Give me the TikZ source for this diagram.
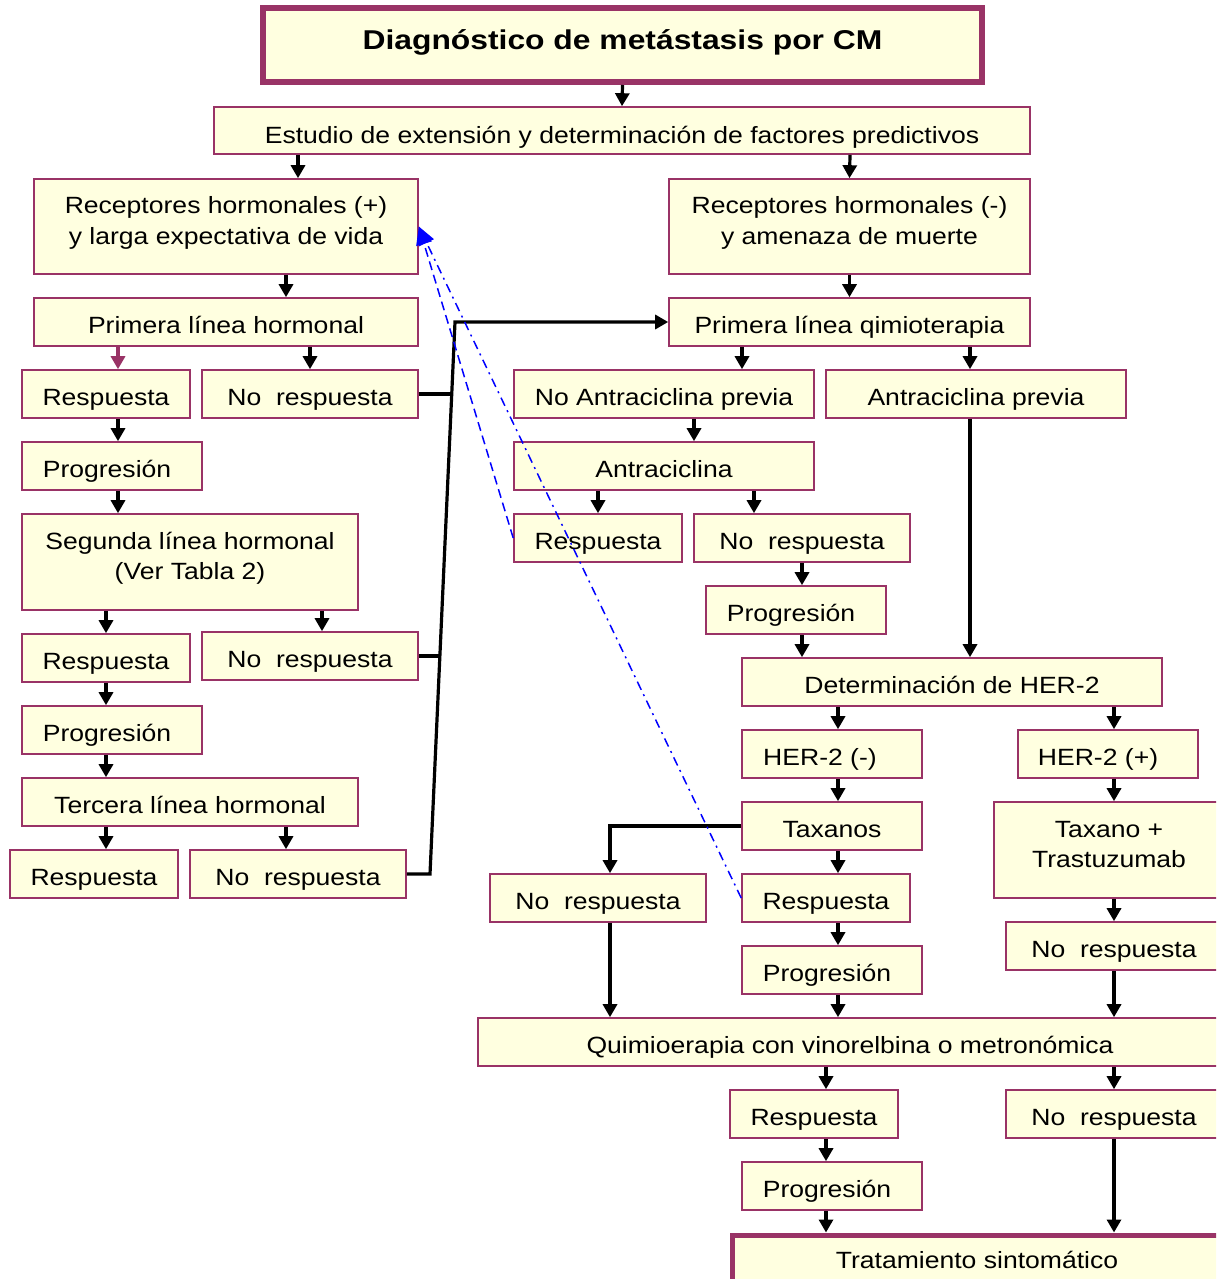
\documentclass[tikz,border=0pt]{standalone}
\usepackage{fontspec}
\setmainfont{Liberation Sans}[FakeStretch=1.13]
\newfontfamily\titlefont{Liberation Sans}[FakeStretch=1.17]
\usetikzlibrary{arrows.meta}
\definecolor{boxfill}{HTML}{FFFFE0}
\definecolor{boxline}{HTML}{993366}
\tikzset{
  bx/.style={draw=boxline, fill=boxfill, line width=1.6pt, inner sep=0pt,
    minimum height=48pt, font=\fontsize{23.5}{30.5}\selectfont,
    text height=22pt, text depth=0pt},
  bxtwo/.style={bx, minimum height=96pt, text height=0pt, text depth=26pt},
  arr/.style={line width=3.2pt, -{Triangle[width=14pt,length=13pt]}},
  conn/.style={line width=3.2pt, line join=miter},
  refline/.style={blue, line width=1.5pt},
}
\begin{document}
\begin{tikzpicture}[x=1pt,y=-1pt]
\useasboundingbox (0,0) rectangle (1216,1279);
\fill[white] (0,0) rectangle (1216,1279);
\clip (0,0) rectangle (1216,1279);

% nodes
\node[bx, line width=6pt, minimum width=719pt, minimum height=74pt,
  font=\titlefont\fontsize{27.2}{32}\selectfont\bfseries, text height=10pt] (title) at (622.5,45) {Diagnóstico de metástasis por CM};
\node[bx, minimum width=816pt, minimum height=47pt, text height=25pt] (est) at (622,130.5) {Estudio de extensión y determinación de factores predictivos};
\node[bxtwo, minimum width=384pt, minimum height=95pt] (rhp) at (226,226.5) {\begin{tabular}[t]{@{}c@{}}Receptores hormonales (+)\\y larga expectativa de vida\end{tabular}};
\node[bxtwo, minimum width=361pt, minimum height=95pt] (rhn) at (849.5,226.5) {\begin{tabular}[t]{@{}c@{}}Receptores hormonales (-)\\y amenaza de muerte\end{tabular}};
\node[bx, minimum width=384pt] (plh) at (226,322) {Primera línea hormonal};
\node[bx, minimum width=168pt] (r1) at (106,394) {Respuesta};
\node[bx, minimum width=216pt] (nr1) at (310,394) {No\ \ respuesta};
\node[bx, minimum width=180pt] (p1) at (112,466) {Progresión\kern10pt};
\node[bxtwo, minimum width=336pt] (slh) at (190,562) {\begin{tabular}[t]{@{}c@{}}Segunda línea hormonal\\(Ver Tabla 2)\end{tabular}};
\node[bx, minimum width=168pt] (r2) at (106,658) {Respuesta};
\node[bx, minimum width=216pt] (nr2) at (310,656) {No\ \ respuesta};
\node[bx, minimum width=180pt] (p2) at (112,730) {Progresión\kern10pt};
\node[bx, minimum width=336pt] (tlh) at (190,802) {Tercera línea hormonal};
\node[bx, minimum width=168pt] (r3) at (94,874) {Respuesta};
\node[bx, minimum width=216pt] (nr3) at (298,874) {No\ \ respuesta};

\node[bx, minimum width=361pt] (plq) at (849.5,322) {Primera línea qimioterapia};
\node[bx, minimum width=300pt] (noa) at (664,394) {No Antraciclina previa};
\node[bx, minimum width=300pt] (ap) at (976,394) {Antraciclina previa};
\node[bx, minimum width=300pt] (an) at (664,466) {Antraciclina};
\node[bx, minimum width=168pt] (ra) at (598,538) {Respuesta};
\node[bx, minimum width=216pt] (nra) at (802,538) {No\ \ respuesta};
\node[bx, minimum width=180pt] (pa) at (796,610) {Progresión\kern10pt};
\node[bx, minimum width=420pt] (her) at (952,682) {Determinación de HER-2};
\node[bx, minimum width=180pt] (hn) at (832,754) {HER-2 (-)\kern24pt};
\node[bx, minimum width=180pt] (hp) at (1108,754) {HER-2 (+)\kern20pt};
\node[bx, minimum width=180pt] (tax) at (832,826) {Taxanos};
\node[bxtwo, minimum width=230pt] (tt) at (1109,850) {\begin{tabular}[t]{@{}c@{}}Taxano +\\Trastuzumab\end{tabular}};
\node[bx, minimum width=216pt] (nrt) at (598,898) {No\ \ respuesta};
\node[bx, minimum width=168pt] (rt) at (826,898) {Respuesta};
\node[bx, minimum width=180pt] (pt) at (832,970) {Progresión\kern10pt};
\node[bx, minimum width=216pt] (nrtt) at (1114,946) {No\ \ respuesta};
\node[bx, minimum width=744pt] (qv) at (850,1042) {Quimioerapia con vinorelbina o metronómica};
\node[bx, minimum width=168pt] (rf) at (814,1114) {Respuesta};
\node[bx, minimum width=216pt] (nrf) at (1114,1114) {No\ \ respuesta};
\node[bx, minimum width=180pt] (pf) at (832,1186) {Progresión\kern10pt};
\node[bx, line width=5pt, minimum width=490pt, minimum height=65pt, text height=1pt] (ts) at (977,1267.5) {Tratamiento sintomático};

% vertical arrows
\draw[arr] (title.south) -- (est.north);
\draw[arr] ([xshift=-324pt]est.south) -- ([xshift=72pt]rhp.north);
\draw[arr] ([xshift=228pt]est.south) -- (rhn.north);
\draw[arr] ([xshift=60pt]rhp.south) -- ([xshift=60pt]plh.north);
\draw[arr] (rhn.south) -- (plq.north);
\draw[arr, boxline] ([xshift=-108pt]plh.south) -- ([xshift=12pt]r1.north);
\draw[arr] ([xshift=84pt]plh.south) -- (nr1.north);
\draw[arr] ([xshift=12pt]r1.south) -- ([xshift=6pt]p1.north);
\draw[arr] ([xshift=6pt]p1.south) -- ([xshift=-72pt]slh.north);
\draw[arr] ([xshift=-84pt]slh.south) -- (r2.north);
\draw[arr] ([xshift=132pt]slh.south) -- ([xshift=12pt]nr2.north);
\draw[arr] (r2.south) -- ([xshift=-6pt]p2.north);
\draw[arr] ([xshift=-6pt]p2.south) -- ([xshift=-84pt]tlh.north);
\draw[arr] ([xshift=-84pt]tlh.south) -- ([xshift=12pt]r3.north);
\draw[arr] ([xshift=96pt]tlh.south) -- ([xshift=-12pt]nr3.north);
\draw[arr] ([xshift=-107.5pt]plq.south) -- ([xshift=78pt]noa.north);
\draw[arr] ([xshift=120.5pt]plq.south) -- ([xshift=-6pt]ap.north);
\draw[arr] ([xshift=30pt]noa.south) -- ([xshift=30pt]an.north);
\draw[arr] ([xshift=-66pt]an.south) -- (ra.north);
\draw[arr] ([xshift=90pt]an.south) -- ([xshift=-48pt]nra.north);
\draw[arr] (nra.south) -- ([xshift=6pt]pa.north);
\draw[arr] ([xshift=6pt]pa.south) -- ([xshift=-150pt]her.north);
\draw[arr] ([xshift=-6pt]ap.south) -- ([xshift=18pt]her.north);
\draw[arr] ([xshift=-114pt]her.south) -- ([xshift=6pt]hn.north);
\draw[arr] ([xshift=162pt]her.south) -- ([xshift=6pt]hp.north);
\draw[arr] ([xshift=6pt]hn.south) -- ([xshift=6pt]tax.north);
\draw[arr] ([xshift=6pt]hp.south) -- ([xshift=5pt]tt.north);
\draw[arr] ([xshift=6pt]tax.south) -- ([xshift=12pt]rt.north);
\draw[arr] ([xshift=12pt]rt.south) -- ([xshift=6pt]pt.north);
\draw[arr] ([xshift=6pt]pt.south) -- ([xshift=-12pt]qv.north);
\draw[arr] ([xshift=5pt]tt.south) -- (nrtt.north);
\draw[arr] (nrtt.south) -- ([xshift=264pt]qv.north);
\draw[arr] (tax.west) -| ([xshift=12pt]nrt.north);
\draw[arr] ([xshift=12pt]nrt.south) -- ([xshift=-240pt]qv.north);
\draw[arr] ([xshift=-24pt]qv.south) -- ([xshift=12pt]rf.north);
\draw[arr] ([xshift=264pt]qv.south) -- (nrf.north);
\draw[arr] ([xshift=12pt]rf.south) -- ([xshift=-6pt]pf.north);
\draw[arr] ([xshift=-6pt]pf.south) -- ([xshift=-151pt]ts.north);
\draw[arr] (nrf.south) -- ([xshift=137pt]ts.north);

% collecting connector of the hormonal "No respuesta" boxes
\coordinate (jt) at (455,322);
\coordinate (jb) at (430,874);
\coordinate (j1) at (451.7,394);
\coordinate (j2) at (439.8,656);
\draw[conn] (nr1.east) -- (j1);
\draw[conn] (nr2.east) -- (j2);
\draw[conn, arr, line join=miter] (nr3.east) -- (jb) -- (jt) -- (plq.west);

% blue reference lines
\draw[refline, dash pattern=on 9pt off 5pt, -{Triangle[width=16pt,length=18pt]}] (ra.west) -- (rhp.east);
\draw[refline, dash pattern=on 9pt off 5pt on 2pt off 5pt, -{Triangle[width=16pt,length=18pt]}] (rt.west) -- (rhp.east);
\end{tikzpicture}
\end{document}
